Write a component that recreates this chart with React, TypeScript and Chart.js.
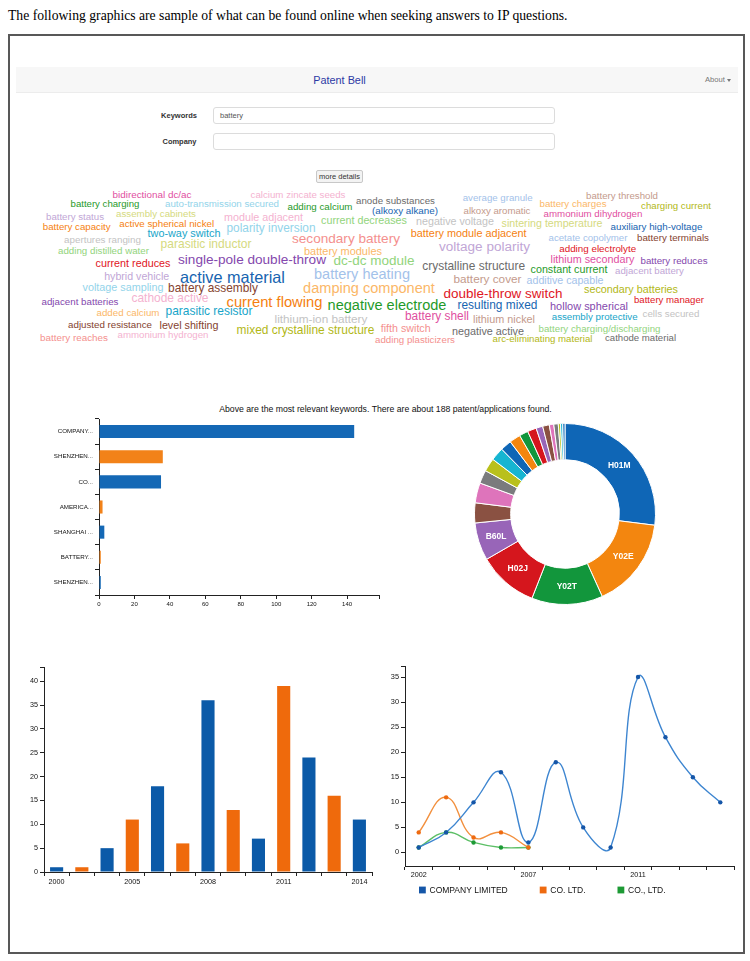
import React, { useEffect, useRef } from 'react';
import { Chart, registerables } from 'chart.js';
Chart.register(...registerables);

const SANS = '"Liberation Sans", Arial, Helvetica, sans-serif';
const SERIF = '"Liberation Serif", "Times New Roman", serif';

// ---------- data ----------
const companyLabels = ['COMPANY...', 'SHENZHEN...', 'CO...', 'AMERICA...', 'SHANGHAI ...', 'BATTERY...', 'SHENZHEN...'];
const companyCounts = [144, 36, 35, 2, 3, 1, 1];
const companyTicks = [0, 20, 40, 60, 80, 100, 120, 140];

const classLabels = ['H01M', 'Y02E', 'Y02T', 'H02J', 'B60L', 'H01G', 'C01G', 'H01B', 'B60K', 'H02M', 'G01R', 'C01B', 'H02H', 'B60R', 'H04B', 'F16H', 'H01R', 'G06F', 'B23K', 'C08F', 'H03K'];
const classCounts = [68, 41, 32, 27, 17, 9, 9, 6, 6, 6, 5, 5, 4, 4, 3, 3, 2, 2, 1, 1, 1];

const yearLabels = ['2000', '2002', '2003', '2005', '2006', '2007', '2008', '2009', '2010', '2011', '2012', '2013', '2014'];
const yearCounts = [1, 1, 5, 11, 18, 6, 36, 13, 7, 39, 24, 16, 11];
const yearTickLabels = ['2000', '2005', '2008', '2011', '2014'];
const yearAxisTicks = [0, 5, 10, 15, 20, 25, 30, 35, 40];

const lineYears = ['2002', '2003', '2005', '2006', '2007', '2008', '2009', '2010', '2011', '2012', '2013', '2014'];
const companyLimited = [1, 4, 10, 16, 2, 18, 5, 1, 35, 23, 15, 10];
const coLtd = [4, 11, 3, 4, 1, null, null, null, null, null, null, null];
const coLtd2 = [1, 4, 2, 1, 1, null, null, null, null, null, null, null];
const lineSeriesNames = ['COMPANY LIMITED', 'CO. LTD.', 'CO., LTD.'];
const lineTickLabels = ['2002', '2007', '2011'];
const lineAxisTicks = [0, 5, 10, 15, 20, 25, 30, 35];

const cloudWords = [
  'bidirectional dc/ac', 'calcium zincate seeds', 'battery charging', 'auto-transmission secured', 'adding calcium',
  'anode substances', '(alkoxy alkane)', 'battery status', 'assembly cabinets', 'module adjacent', 'current decreases',
  'battery capacity', 'active spherical nickel', 'two-way switch', 'polarity inversion', 'apertures ranging',
  'parasitic inductor', 'secondary battery', 'adding distilled water', 'battery modules', 'current reduces',
  'single-pole double-throw', 'dc-dc module', 'hybrid vehicle', 'active material', 'battery heating', 'voltage sampling',
  'battery assembly', 'damping component', 'adjacent batteries', 'cathode active', 'current flowing', 'negative electrode',
  'added calcium', 'parasitic resistor', 'lithium-ion battery', 'adjusted resistance', 'level shifting',
  'mixed crystalline structure', 'battery reaches', 'ammonium hydrogen', 'average granule', 'battery threshold',
  'battery charges', 'charging current', 'alkoxy aromatic', 'ammonium dihydrogen', 'negative voltage',
  'sintering temperature', 'auxiliary high-voltage', 'battery module adjacent', 'acetate copolymer', 'battery terminals',
  'voltage polarity', 'adding electrolyte', 'lithium secondary', 'battery reduces', 'crystalline structure',
  'constant current', 'adjacent battery', 'battery cover', 'additive capable', 'secondary batteries',
  'double-throw switch', 'battery manager', 'resulting mixed', 'hollow spherical', 'battery shell', 'lithium nickel',
  'assembly protective', 'cells secured', 'fifth switch', 'negative active', 'battery charging/discharging',
  'adding plasticizers', 'arc-eliminating material', 'cathode material',
];

// ---------- styles ----------
const C = {
  B: '#1764b0', LB: '#a3c2ea', O: '#f57f10', LO: '#fbb768', G: '#1f9a2a', LG: '#92d47c', R: '#e0161e', LR: '#f4908e',
  P: '#8448ad', LP: '#c1a6d6', BR: '#85432f', LBR: '#c49a8c', PK: '#df4f9f', LPK: '#f4b2d0', GR: '#6b6b6b',
  LGR: '#c3c3c3', OL: '#b2b817', LOL: '#d5da80', CY: '#17a5c9', LC: '#93d4ea',
};
// layout of each cloud word: [centre x, centre y, width, colour]
const cloudLayout: [number, number, number, string][] = [
  [152, 195, 79, C.PK], [298, 195.3, 95, C.LPK], [105, 204, 69, C.G], [222, 204, 114, C.LC], [320, 206.7, 65, C.G],
  [395.5, 201, 79, C.GR], [405, 211, 66, C.B], [75, 216.7, 58, C.LP], [156, 213.7, 80, C.LOL], [263.5, 216.7, 79, C.LPK], [364, 220, 86, C.LG],
  [76.7, 227, 68, C.O], [166.7, 223.7, 95, C.O], [184, 232.7, 73, C.CY], [271, 229, 89, C.LC], [102.5, 240, 77, C.LGR],
  [206, 244, 91, C.LOL], [346, 239.3, 108, C.LR], [103.5, 251.3, 91, C.LG], [343, 250.7, 78, C.LO], [133, 263.3, 75, C.R],
  [252, 260, 148, C.P], [374, 261.3, 81, C.LG], [136.7, 275.7, 65, C.LP], [232.5, 276.7, 105, C.B], [362, 274, 96, C.LB], [123, 287.3, 81, C.LC],
  [213, 289, 90, C.BR], [369, 288.3, 132, C.LO], [80, 301.7, 77, C.P], [170, 299.3, 77, C.LPK], [274.5, 302, 96, C.O], [387, 305, 119, C.G],
  [128, 312.7, 63, C.LO], [209, 312.3, 87, C.CY], [321, 319.3, 93, C.LGR], [110, 324.7, 84, C.BR], [189, 325.3, 59, C.BR],
  [305.5, 330.7, 138, C.OL], [74, 337.7, 68, C.LR], [163, 335.3, 91, C.LPK], [497.7, 197.7, 70, C.LB], [622, 195.7, 72, C.LBR],
  [573, 203.7, 67, C.LO], [676, 205.7, 70, C.OL], [497, 211, 67, C.LBR], [593, 213.7, 99, C.PK], [455, 220.7, 78, C.LGR],
  [552, 223.3, 101, C.LOL], [656.5, 226.7, 92, C.B], [468.7, 233.3, 116, C.O], [588, 237.7, 79, C.LB], [673, 237.7, 72, C.BR],
  [484.5, 246.7, 91, C.LP], [597.7, 248.7, 77, C.R], [592.5, 259, 84, C.PK], [674, 261, 67, C.P], [473.7, 267, 103, C.GR],
  [569, 268.7, 77, C.G], [649.5, 271.3, 69, C.LP], [487.5, 279.3, 68, C.LBR], [565, 280, 77, C.LB], [631, 289, 94, C.OL],
  [503, 294, 119, C.R], [669, 300, 70, C.R], [497.5, 306, 80, C.B], [589, 306, 78, C.P], [437, 316.7, 64, C.PK], [504, 319, 62, C.LBR],
  [594.7, 316.7, 86, C.CY], [671, 314, 57, C.LGR], [405.7, 328.3, 50, C.LR], [488, 330.7, 72, C.GR], [599.5, 328.7, 122, C.LG],
  [415, 340, 80, C.LR], [542.5, 339.3, 100, C.OL], [640.5, 338.3, 71, C.GR],
];

const DONUT_COLORS = ['#0f66b6', '#f3860f', '#12963c', '#d5161d', '#9865b8', '#8a5142', '#de74bb', '#7a7b7d', '#b9c01c', '#16b5d1'];

// ---------- text helpers ----------
let mctx: CanvasRenderingContext2D | null = null;
function measure(text: string, weight: string, family: string, size: number) {
  if (!mctx) mctx = document.createElement('canvas').getContext('2d');
  mctx!.font = `${weight} ${size}px ${family}`;
  return mctx!.measureText(text).width;
}

function Txt(props: { text: string; cx?: number; left?: number; cy: number; width: number; size?: number; family?: string; weight?: string; color?: string }) {
  const family = props.family || SANS;
  const weight = props.weight || 'normal';
  let size = props.size || 0;
  let scale = 1;
  if (size) {
    scale = props.width / measure(props.text, weight, family, size);
  } else {
    size = (props.width / measure(props.text, weight, family, 100)) * 100;
  }
  const centred = props.cx !== undefined;
  const style: React.CSSProperties = {
    position: 'absolute',
    top: props.cy,
    left: centred ? props.cx : props.left,
    fontFamily: family,
    fontWeight: weight as any,
    fontSize: size,
    lineHeight: 1,
    whiteSpace: 'nowrap',
    color: props.color || '#111',
    transformOrigin: centred ? 'center center' : 'left center',
    transform: centred ? `translate(-50%,-50%) scaleX(${scale})` : `translateY(-50%) scaleX(${scale})`,
  };
  return <span style={style}>{props.text}</span>;
}

// ---------- chart helper ----------
function ChartCanvas(props: { left: number; top: number; width: number; height: number; make: () => any }) {
  const ref = useRef<HTMLCanvasElement>(null);
  useEffect(() => {
    const chart = new Chart(ref.current!, props.make());
    return () => chart.destroy();
  }, []);
  return (
    <canvas
      ref={ref}
      width={props.width}
      height={props.height}
      style={{ position: 'absolute', left: props.left, top: props.top, width: props.width, height: props.height }}
    />
  );
}

const AX = '#222';
const gridOpts = (offset: boolean) => ({ drawOnChartArea: false, color: AX, tickLength: 4, lineWidth: 1, offset });
const borderOpts = { color: AX, width: 1 };

function companyChart() {
  return {
    type: 'bar',
    data: {
      labels: companyLabels,
      datasets: [{
        data: companyCounts,
        backgroundColor: companyCounts.map((_, i) => (i % 2 ? '#f28219' : '#1468b5')),
        barPercentage: 0.52,
        categoryPercentage: 1,
      }],
    },
    options: {
      indexAxis: 'y',
      responsive: false,
      animation: false,
      layout: { padding: { top: 19, right: 11, left: 0, bottom: 0 } },
      plugins: { legend: { display: false }, tooltip: { enabled: false } },
      scales: {
        x: {
          type: 'linear', min: 0, max: 158,
          afterBuildTicks: (s: any) => { s.ticks = [...companyTicks, 158].map((v) => ({ value: v })); },
          ticks: { font: { family: SANS, size: 6 }, color: '#111', padding: 2, maxRotation: 0, callback: (v: number) => (companyTicks.includes(v) ? String(v) : '') },
          grid: gridOpts(false), border: borderOpts,
          afterFit: (s: any) => { s.height = 20; },
        },
        y: {
          type: 'category',
          ticks: { font: { family: SANS, size: 6.2 }, color: '#111', padding: 2 },
          grid: gridOpts(true), border: borderOpts,
          afterFit: (s: any) => { s.width = 69; },
        },
      },
    },
  };
}

const donutLabelPlugin = {
  id: 'donutLabels',
  afterDatasetsDraw(chart: any) {
    const ctx = chart.ctx;
    const meta = chart.getDatasetMeta(0);
    ctx.save();
    ctx.fillStyle = '#fff';
    ctx.font = `bold 8.5px ${SANS}`;
    ctx.textAlign = 'center';
    ctx.textBaseline = 'middle';
    meta.data.forEach((arc: any, i: number) => {
      if (arc.endAngle - arc.startAngle > 0.38) {
        const p = arc.tooltipPosition(false);
        ctx.fillText(chart.data.labels[i], p.x, p.y);
      }
    });
    ctx.restore();
  },
};

function classChart() {
  return {
    type: 'doughnut',
    data: {
      labels: classLabels,
      datasets: [{
        data: classCounts,
        backgroundColor: classCounts.map((_, i) => DONUT_COLORS[i % 10]),
        borderColor: '#fff',
        borderWidth: 1,
      }],
    },
    options: {
      responsive: false,
      animation: false,
      cutout: '60%',
      layout: { padding: 0 },
      plugins: { legend: { display: false }, tooltip: { enabled: false } },
    },
    plugins: [donutLabelPlugin],
  };
}

function yearChart() {
  return {
    type: 'bar',
    data: {
      labels: yearLabels,
      datasets: [{
        data: yearCounts,
        backgroundColor: yearCounts.map((_, i) => (i % 2 ? '#ef6a0c' : '#0b5aa8')),
        barPercentage: 0.52,
        categoryPercentage: 1,
      }],
    },
    options: {
      responsive: false,
      animation: false,
      layout: { padding: { top: 12, right: 13, left: 0, bottom: 0 } },
      plugins: { legend: { display: false }, tooltip: { enabled: false } },
      scales: {
        x: {
          type: 'category', offset: true,
          ticks: {
            autoSkip: false, maxRotation: 0, font: { family: SANS, size: 7.2 }, color: '#111', padding: 2,
            callback: (_v: any, i: number) => (yearTickLabels.includes(yearLabels[i]) ? yearLabels[i] : ''),
          },
          grid: gridOpts(true), border: borderOpts,
          afterFit: (s: any) => { s.height = 23; },
        },
        y: {
          type: 'linear', min: 0, max: 43,
          afterBuildTicks: (s: any) => { s.ticks = [...yearAxisTicks, 43].map((v) => ({ value: v })); },
          ticks: { font: { family: SANS, size: 7.2 }, color: '#111', padding: 2, callback: (v: number) => (yearAxisTicks.includes(v) ? String(v) : '') },
          grid: gridOpts(false), border: borderOpts,
          afterFit: (s: any) => { s.width = 34; },
        },
      },
    },
  };
}

const lineLegendPlugin = {
  id: 'lineLegend',
  afterDraw(chart: any) {
    const ctx = chart.ctx;
    ctx.save();
    ctx.font = `8.5px ${SANS}`;
    ctx.textBaseline = 'middle';
    ctx.textAlign = 'left';
    let x = 44;
    const y = 235;
    chart.data.datasets.forEach((ds: any) => {
      ctx.fillStyle = ds.pointBackgroundColor;
      ctx.fillRect(x, y - 3.4, 6.8, 6.8);
      ctx.fillStyle = '#111';
      ctx.fillText(ds.label, x + 10.5, y + 0.5);
      x += 10.5 + ctx.measureText(ds.label).width + 32;
    });
    ctx.restore();
  },
};

function lineChart() {
  const series = [companyLimited, coLtd, coLtd2];
  const lineColors = ['#3d85d0', '#f2903e', '#5cbf66'];
  const pointColors = ['#1556a8', '#ee6a10', '#1d9a35'];
  return {
    type: 'line',
    data: {
      labels: lineYears,
      datasets: series.map((d, i) => ({
        label: lineSeriesNames[i],
        data: d,
        borderColor: lineColors[i],
        borderWidth: 1.4,
        pointBackgroundColor: pointColors[i],
        pointBorderWidth: 0,
        pointRadius: 2.2,
        tension: 0.45,
        fill: false,
      })),
    },
    options: {
      responsive: false,
      animation: false,
      layout: { padding: { top: 11, right: 11, left: 0, bottom: 0 } },
      plugins: { legend: { display: false }, tooltip: { enabled: false } },
      scales: {
        x: {
          type: 'category', offset: true,
          ticks: {
            autoSkip: false, maxRotation: 0, font: { family: SANS, size: 7.2 }, color: '#111', padding: 1,
            callback: (_v: any, i: number) => (lineTickLabels.includes(lineYears[i]) ? lineYears[i] : ''),
          },
          grid: gridOpts(true), border: borderOpts,
          afterFit: (s: any) => { s.height = 39; },
        },
        y: {
          type: 'linear', min: -2.7, max: 37.2,
          afterBuildTicks: (s: any) => { s.ticks = [...lineAxisTicks, 37.2].map((v) => ({ value: v })); },
          ticks: { font: { family: SANS, size: 7.4 }, color: '#111', padding: 2, callback: (v: number) => (lineAxisTicks.includes(v) ? String(v) : '') },
          grid: gridOpts(false), border: borderOpts,
          afterFit: (s: any) => { s.width = 30; },
        },
      },
    },
    plugins: [lineLegendPlugin],
  };
}

export default function App() {
  return (
    <div style={{ position: 'absolute', left: 0, top: 0, width: 750, height: 961, background: '#fff', overflow: 'hidden' }}>
      <Txt text="The following graphics are sample of what can be found online when seeking answers to IP questions."
        left={8} cy={15} width={560} size={15} family={SERIF} color="#000" />
      <div style={{ position: 'absolute', left: 8, top: 34, width: 737, height: 920, border: '2px solid #585858', boxSizing: 'border-box' }} />

      {/* navbar */}
      <div style={{ position: 'absolute', left: 16, top: 67, width: 722, height: 26, background: '#f7f7f7', borderBottom: '1px solid #ececec', boxSizing: 'border-box' }} />
      <Txt text="Patent Bell" cx={339.5} cy={79.5} width={52.5} color="#2d3aa5" />
      <Txt text="About" left={705} cy={80} width={20} color="#777" />
      <div style={{ position: 'absolute', left: 727, top: 79, width: 0, height: 0, borderTop: '3px solid #777', borderLeft: '2.5px solid transparent', borderRight: '2.5px solid transparent' }} />

      {/* form */}
      <Txt text="Keywords" cx={179} cy={115.5} width={36} weight="bold" color="#333" />
      <div style={{ position: 'absolute', left: 213, top: 107, width: 342, height: 17, border: '1px solid #dcdcdc', borderRadius: 3, boxSizing: 'border-box' }} />
      <Txt text="battery" left={220} cy={115.5} width={23} color="#555" />
      <Txt text="Company" cx={179.5} cy={142} width={34} weight="bold" color="#333" />
      <div style={{ position: 'absolute', left: 213, top: 133, width: 342, height: 17, border: '1px solid #dcdcdc', borderRadius: 3, boxSizing: 'border-box' }} />
      <div style={{ position: 'absolute', left: 316, top: 170, width: 47, height: 13, border: '1px solid #c8c8c8', background: '#f3f3f3', borderRadius: 2, boxSizing: 'border-box' }} />
      <Txt text="more details" cx={339.5} cy={176.5} width={41} color="#333" />

      {/* word cloud */}
      {cloudWords.map((w, i) => {
        const [cx, cy, width, color] = cloudLayout[i];
        return <Txt key={i} text={w} cx={cx} cy={cy} width={width} color={color} />;
      })}

      <Txt text="Above are the most relevant keywords. There are about 188 patent/applications found."
        cx={385.5} cy={409} width={333} color="#111" />

      <ChartCanvas left={30} top={400} width={360} height={215} make={companyChart} />
      <ChartCanvas left={474} top={423} width={182} height={182} make={classChart} />
      <ChartCanvas left={10} top={655} width={375} height={240} make={yearChart} />
      <ChartCanvas left={375} top={655} width={370} height={250} make={lineChart} />
    </div>
  );
}
